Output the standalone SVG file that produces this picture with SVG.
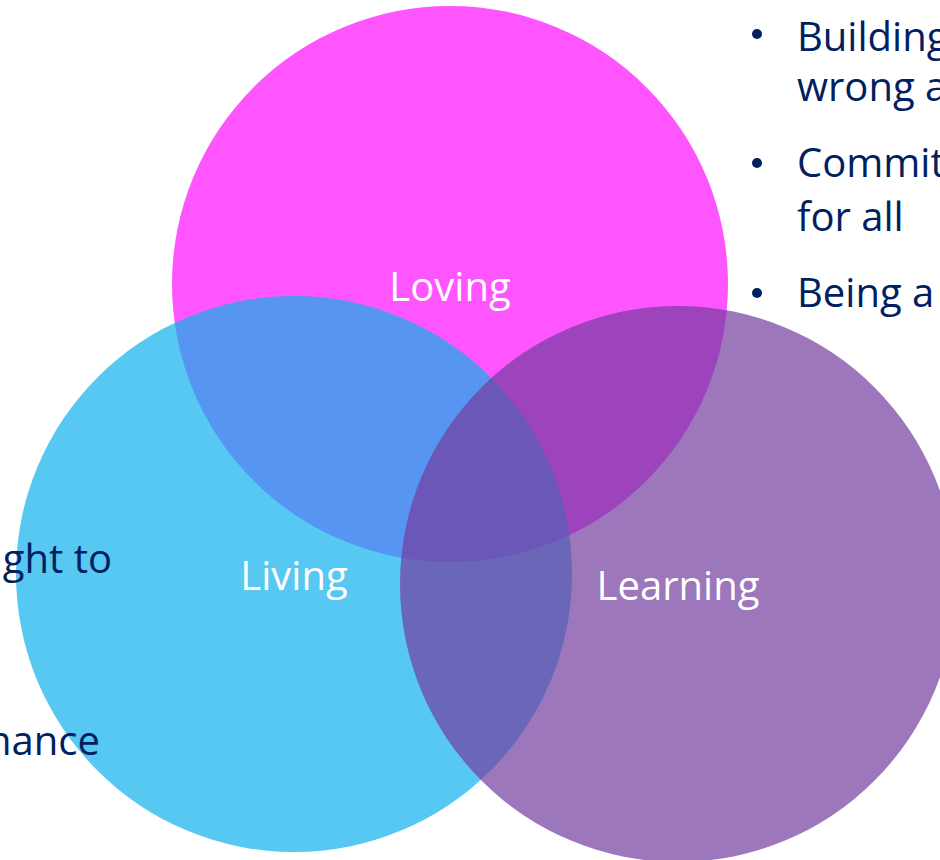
<svg xmlns="http://www.w3.org/2000/svg" width="940" height="860" viewBox="0 0 940 860">
<style>
.lbl{font-family:"Open Sans","Noto Sans",sans-serif;font-size:40px;fill:#ffffff;text-anchor:middle}
.txt{font-family:"Open Sans","Noto Sans",sans-serif;font-size:40px;fill:#002060}
</style>
<rect width="940" height="860" fill="#ffffff"/>
<g id="loving">
<circle cx="450" cy="284" r="278" fill="#ff55ff"/>
</g>
<g id="living">
<circle cx="294" cy="574" r="278" fill="#0eb0ec" fill-opacity="0.7"/>
</g>
<g id="learning">
<circle cx="678" cy="584" r="278" fill="#743da0" fill-opacity="0.7"/>
</g>
<g id="labels">
<text class="lbl" x="450" y="301">Loving</text>
<text class="lbl" x="294" y="590">Living</text>
<text class="lbl" x="678" y="600">Learning</text>
</g>
<g id="bullets-right">
<circle cx="757" cy="34" r="5" fill="#002060"/>
<circle cx="757" cy="163" r="5" fill="#002060"/>
<circle cx="757" cy="293" r="5" fill="#002060"/>
<text class="txt" x="797" y="51">Building</text>
<text class="txt" x="797" y="101">wrong a</text>
<text class="txt" x="797" y="177">Commit</text>
<text class="txt" x="797" y="231">for all</text>
<text class="txt" x="797" y="307">Being a</text>
</g>
<g id="text-left">
<text class="txt" x="112" y="573" text-anchor="end">ght to</text>
<text class="txt" x="100" y="755" text-anchor="end">hance</text>
</g>
<g id="connectors"/>
</svg>
